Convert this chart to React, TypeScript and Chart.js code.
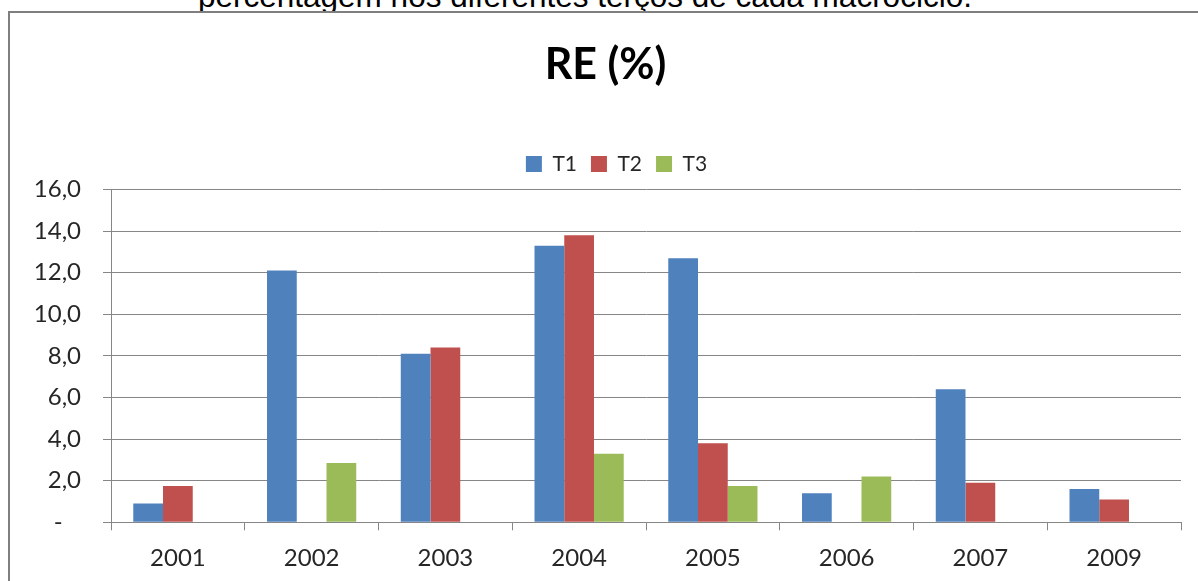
import React, { useEffect, useRef } from 'react';
import { Chart, registerables } from 'chart.js';

Chart.register(...registerables);

const categories = ['2001', '2002', '2003', '2004', '2005', '2006', '2007', '2009'];
const t1Values = [0.9, 12.1, 8.1, 13.3, 12.7, 1.4, 6.4, 1.6];
const t2Values = [1.75, null, 8.4, 13.8, 3.8, null, 1.9, 1.1];
const t3Values = [null, 2.85, null, 3.3, 1.75, 2.2, null, null];
const seriesNames = ['T1', 'T2', 'T3'];
const seriesColors = ['#4F81BD', '#C0504D', '#9BBB59'];
const yMin = 0;
const yMax = 16;
const yStep = 2;
const titleText = 'RE (%)';
const captionText = 'percentagem nos diferentes terços de cada macrociclo.';

const W = 1198;
const H = 581;
const CANVAS_H = 600;
const LEGEND_H = 50;

const legendTweakPlugin = {
  id: 'legendTweak',
  beforeLayout(chart: any) {
    const leg = chart.legend;
    if (leg && !leg._fixedFit) {
      const orig = leg.fit;
      leg.fit = function () {
        orig.call(this);
        this.height = LEGEND_H;
      };
      leg._fixedFit = true;
    }
  },
  afterLayout(chart: any) {
    const leg = chart.legend;
    if (leg && leg.lineWidths && leg.lineWidths.length) {
      leg.lineWidths[0] = leg.lineWidths[0] - 22;
    }
  },
};

export default function App() {
  const ref = useRef<HTMLCanvasElement | null>(null);

  useEffect(() => {
    if (!ref.current) return;
    Chart.defaults.font.family = 'Lato';
    const chart = new Chart(ref.current, {
      type: 'bar',
      data: {
        labels: categories,
        datasets: [t1Values, t2Values, t3Values].map((vals, i) => ({
          label: seriesNames[i],
          data: vals as any,
          backgroundColor: seriesColors[i],
          borderWidth: 0,
          categoryPercentage: 0.667,
          barPercentage: 1,
        })),
      },
      options: {
        responsive: false,
        animation: false,
        devicePixelRatio: 1,
        layout: { padding: { top: 12, left: 30, right: 17, bottom: 14.3 } },
        plugins: {
          title: {
            display: true,
            text: titleText,
            color: '#000000',
            font: { family: 'Lato', size: 43, weight: 'bold' },
            padding: { top: 27.2, bottom: 48.7 },
          },
          legend: {
            display: true,
            position: 'top',
            labels: {
              boxWidth: 16,
              boxHeight: 16,
              padding: 14,
              color: '#262626',
              font: { family: 'Lato', size: 21 },
            },
          },
          tooltip: { enabled: false },
        },
        scales: {
          x: {
            grid: {
              display: true,
              drawOnChartArea: false,
              drawTicks: true,
              tickLength: 8,
              color: '#868686',
              offset: true,
            },
            border: { display: true, color: '#868686', width: 1 },
            ticks: {
              color: '#262626',
              padding: 13.3,
              font: { family: 'Lato', size: 24 },
              maxRotation: 0,
            },
          },
          y: {
            min: yMin,
            max: yMax,
            afterFit: (scale: any) => {
              scale.width = 81;
            },
            grid: {
              color: '#868686',
              tickLength: 8,
              drawTicks: true,
            },
            border: { display: true, color: '#868686', width: 1 },
            ticks: {
              stepSize: yStep,
              padding: 22,
              color: '#262626',
              font: { family: 'Lato', size: 24 },
              callback: (v: any) =>
                Number(v) === 0 ? '-   ' : Number(v).toFixed(1).replace('.', ','),
            },
          },
        },
      },
      plugins: [legendTweakPlugin],
    });
    return () => chart.destroy();
  }, []);

  return (
    <div
      style={{
        position: 'fixed',
        left: 0,
        top: 0,
        width: W,
        height: H,
        overflow: 'hidden',
        background: '#ffffff',
      }}
    >
      <div
        style={{
          position: 'absolute',
          left: 198,
          top: -19,
          fontFamily: '"Liberation Sans", Arial, sans-serif',
          fontSize: 31.5,
          lineHeight: '31px',
          color: '#000000',
          whiteSpace: 'nowrap',
        }}
      >
        {captionText}
      </div>
      <div
        style={{
          position: 'absolute',
          left: 8,
          top: 11,
          width: 1260,
          height: 640,
          borderTop: '2px solid #7f7f7f',
          borderLeft: '2px solid #7f7f7f',
          background: '#ffffff',
        }}
      />
      <canvas
        ref={ref}
        width={W}
        height={CANVAS_H}
        style={{ position: 'absolute', left: 0, top: 0, width: W, height: CANVAS_H }}
      />
    </div>
  );
}
